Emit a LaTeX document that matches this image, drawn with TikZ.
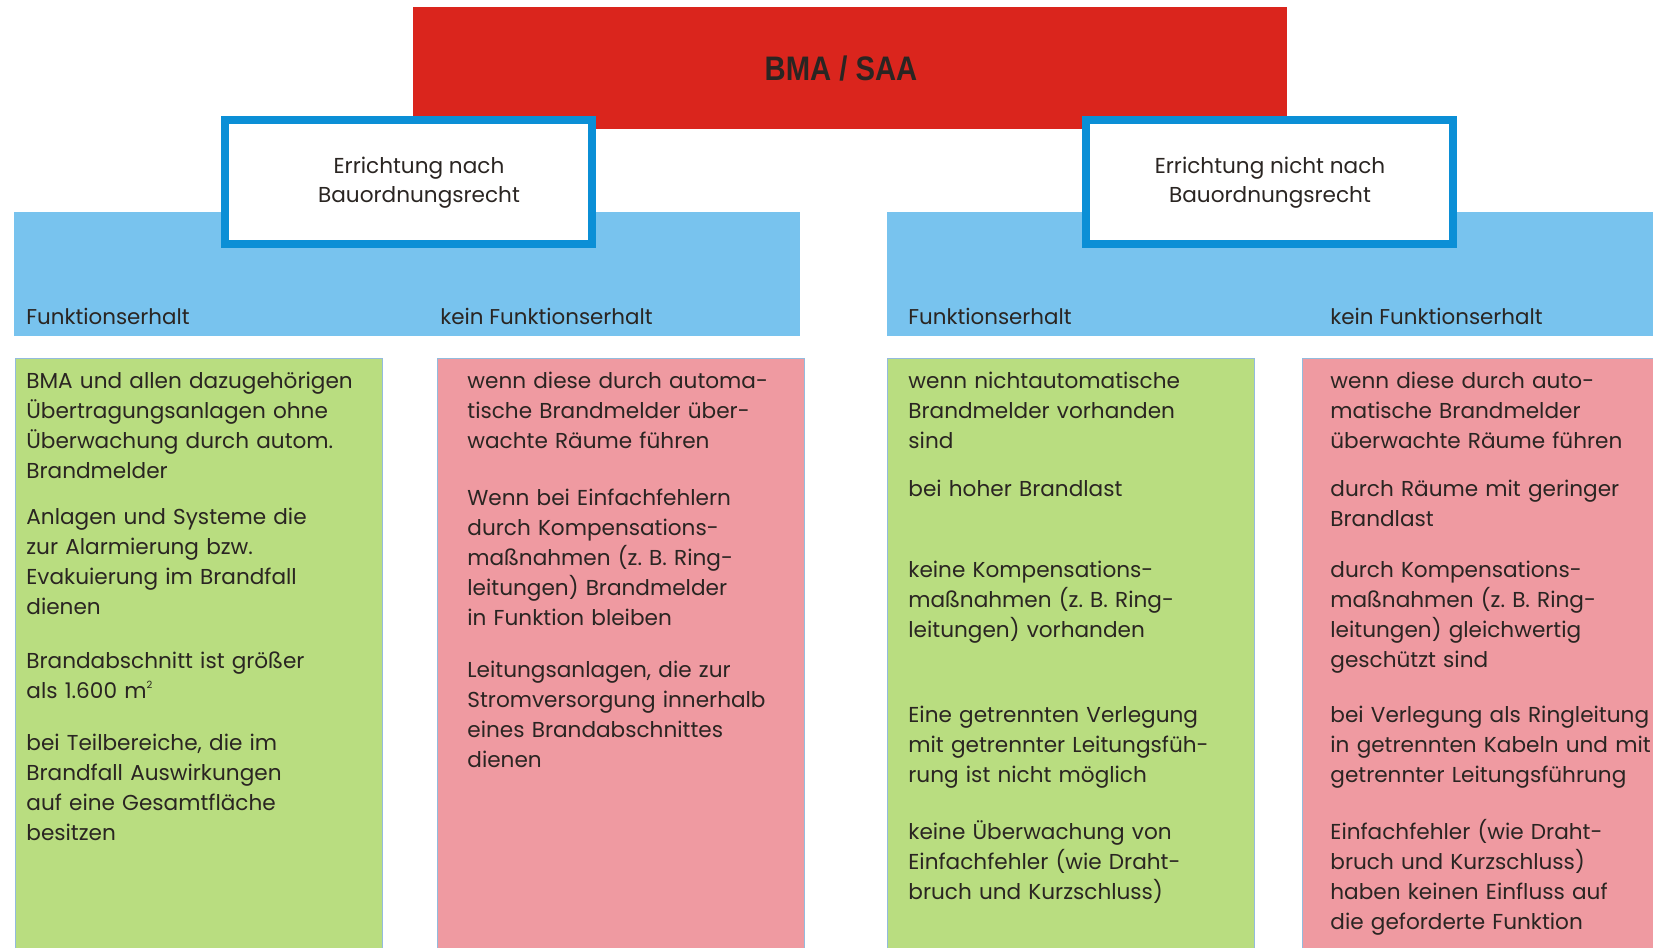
\documentclass[tikz,border=0pt]{standalone}
\usepackage{fontspec}
\setmainfont{Poppins}
\newfontfamily\headfont[FakeStretch=0.86]{Liberation Sans}
\usetikzlibrary{positioning}
\definecolor{bmared}{HTML}{DA251D}
\definecolor{bandblue}{HTML}{78C3EE}
\definecolor{frameblue}{HTML}{0B8FD6}
\definecolor{okgreen}{HTML}{B9DD80}
\definecolor{nopink}{HTML}{EF9AA1}
\definecolor{thinline}{HTML}{93BBDD}
\definecolor{inkc}{HTML}{2A2522}
\newcommand{\qm}{m\raisebox{0.85ex}{\fontsize{5pt}{5pt}\selectfont 2}}
\tikzset{
  headbox/.style={fill=bmared,minimum width=437pt,minimum height=61pt},
  headtext/.style={font=\headfont\bfseries\fontsize{17pt}{19pt}\selectfont,text=inkc},
  band/.style={fill=bandblue,minimum width=393pt,minimum height=62pt},
  kindbox/.style={draw=frameblue,line width=4pt,fill=white,
    minimum width=183.5pt,minimum height=62pt},
  kindtext/.style={align=center,font=\fontsize{10.8pt}{14.5pt}\selectfont,text=inkc},
  colbox/.style={draw=thinline,line width=0.5pt,minimum width=183.5pt,minimum height=301pt},
  bandlabel/.style={anchor=base west,font=\fontsize{10.7pt}{15pt}\selectfont,text=inkc},
  coltext/.style={anchor=base west,text width=200pt,align=left,
    font=\fontsize{10.8pt}{15pt}\selectfont,text=inkc}
}
\begin{document}
\begin{tikzpicture}[x=0.5pt,y=-0.5pt,inner sep=0pt]
  \useasboundingbox (0,0) rectangle (1653,947);
  \node[headbox] (bma) at (850,68) {};
  \node[headtext] (bmatxt) at (841,69) {BMA / SAA};
  \node[band] (bandl) at (407,274) {};
  \node[band] (bandr) at (1280,274) {};
  \node[kindbox] (nach) at (408.5,182) {};
  \node[kindbox] (nichtnach) at (1269,182) {};
  \node[kindtext] (nachtxt) at (419,183) {Errichtung nach\\Bauordnungsrecht};
  \node[kindtext] (nichtnachtxt) at (1270,183) {Errichtung nicht nach\\Bauordnungsrecht};
  \node[bandlabel] (fl) at (26,324.5) {Funktionserhalt};
  \node[bandlabel] (kfl) at (440,324.5) {kein Funktionserhalt};
  \node[bandlabel] (fr) at (908,324.5) {Funktionserhalt};
  \node[bandlabel] (kfr) at (1330,324.5) {kein Funktionserhalt};
  \node[colbox,fill=okgreen] (col1) at (198.5,659) {};
  \node[colbox,fill=nopink] (col2) at (621,659) {};
  \node[colbox,fill=okgreen] (col3) at (1071,659) {};
  \node[colbox,fill=nopink] (col4) at (1485.5,659) {};
  \node[coltext] (c1a) at (26,388) {BMA und allen dazugehörigen\\Übertragungsanlagen ohne\\Überwachung durch autom.\\Brandmelder};
  \node[coltext] (c1b) at (26,524) {Anlagen und Systeme die\\zur Alarmierung bzw.\\Evakuierung im Brandfall\\dienen};
  \node[coltext] (c1c) at (26,668.5) {Brandabschnitt ist größer\\als 1.600 \qm};
  \node[coltext] (c1d) at (26,750.5) {bei Teilbereiche, die im\\Brandfall Auswirkungen\\auf eine Gesamtfläche\\besitzen};
  \node[coltext] (c2a) at (467,388) {wenn diese durch automa-\\tische Brandmelder über-\\wachte Räume führen};
  \node[coltext] (c2b) at (467,505) {Wenn bei Einfachfehlern\\durch Kompensations-\\maßnahmen (z.~B. Ring-\\leitungen) Brandmelder\\in Funktion bleiben};
  \node[coltext] (c2c) at (467,677) {Leitungsanlagen, die zur\\Stromversorgung innerhalb\\eines Brandabschnittes\\dienen};
  \node[coltext] (c3a) at (908,388) {wenn nichtautomatische\\Brandmelder vorhanden\\sind};
  \node[coltext] (c3b) at (908,496.7) {bei hoher Brandlast};
  \node[coltext] (c3c) at (908,577.8) {keine Kompensations-\\maßnahmen (z.~B. Ring-\\leitungen) vorhanden};
  \node[coltext] (c3d) at (908,722.2) {Eine getrennten Verlegung\\mit getrennter Leitungsfüh-\\rung ist nicht möglich};
  \node[coltext] (c3e) at (908,839.3) {keine Überwachung von\\Einfachfehler (wie Draht-\\bruch und Kurzschluss)};
  \node[coltext] (c4a) at (1330,388) {wenn diese durch auto-\\matische Brandmelder\\überwachte Räume führen};
  \node[coltext] (c4b) at (1330,496.7) {durch Räume mit geringer\\Brandlast};
  \node[coltext] (c4c) at (1330,577.8) {durch Kompensations-\\maßnahmen (z.~B. Ring-\\leitungen) gleichwertig\\geschützt sind};
  \node[coltext] (c4d) at (1330,722.2) {bei Verlegung als Ringleitung\\in getrennten Kabeln und mit\\getrennter Leitungsführung};
  \node[coltext] (c4e) at (1330,839.3) {Einfachfehler (wie Draht-\\bruch und Kurzschluss)\\haben keinen Einfluss auf\\die geforderte Funktion};
\end{tikzpicture}
\end{document}
